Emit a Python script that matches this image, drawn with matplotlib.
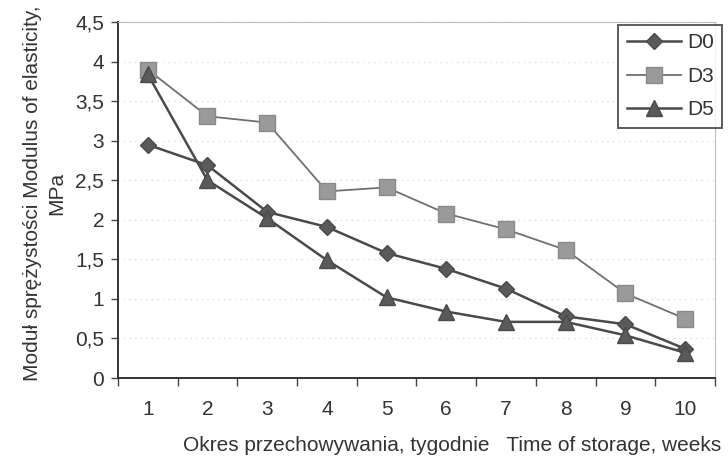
import numpy as np
import matplotlib.pyplot as plt

plt.rcParams['font.family'] = ['Liberation Sans', 'DejaVu Sans']

weeks = [1, 2, 3, 4, 5, 6, 7, 8, 9, 10]
d0 = [2.95, 2.69, 2.10, 1.91, 1.58, 1.38, 1.13, 0.78, 0.68, 0.37]
d3 = [3.90, 3.31, 3.23, 2.36, 2.41, 2.08, 1.88, 1.62, 1.07, 0.75]
d5 = [3.84, 2.50, 2.02, 1.49, 1.02, 0.84, 0.71, 0.71, 0.54, 0.32]

fig = plt.figure(figsize=(7.28, 4.61), dpi=100)
ax = fig.add_axes([0.162, 0.180, 0.820, 0.772])

ax.plot(weeks, d0, color='#4a4a4a', lw=1.8, marker='D', ms=8, mfc='#5a5a5a', mec='#4a4a4a', label='D0')
ax.plot(weeks, d3, color='#707070', lw=1.3, marker='s', ms=11, mfc='#9a9a9a', mec='#8a8a8a', label='D3')
ax.plot(weeks, d5, color='#4a4a4a', lw=1.8, marker='^', ms=11, mfc='#5a5a5a', mec='#4a4a4a', label='D5')

ax.set_xlim(0.5, 10.5)
ax.set_ylim(0, 4.5)
ax.set_yticks(np.arange(0, 4.51, 0.5))
ax.set_yticklabels(['0', '0,5', '1', '1,5', '2', '2,5', '3', '3,5', '4', '4,5'])
ax.set_xticks(weeks)
ax.set_xticks(np.arange(0.5, 10.6, 1), minor=True)
ax.tick_params(axis='x', which='major', length=0, pad=16, labelsize=15)
ax.tick_params(axis='x', which='minor', length=6, width=1, color='#444444', direction='out')
ax.tick_params(axis='y', length=5, width=1, color='#444444', labelsize=15, pad=5)
for lab in ax.get_xticklabels() + ax.get_yticklabels():
    lab.set_color('#333333')

ax.grid(axis='y', color='#cccccc', lw=0.8, ls=(0, (1, 4)))
for s in ['left', 'bottom']:
    ax.spines[s].set_color('#333333')
    ax.spines[s].set_linewidth(1.4)
for s in ['top', 'right']:
    ax.spines[s].set_color('#bbbbbb')
    ax.spines[s].set_linewidth(0.8)

ax.set_xlabel('Okres przechowywania, tygodnie   Time of storage, weeks', fontsize=15, color='#333333', labelpad=12, x=0.56)
ax.set_ylabel('Moduł sprężystości Modulus of elasticity,\nMPa', fontsize=15, color='#333333', labelpad=6, linespacing=1.35, y=0.52)

leg = fig.legend(loc='upper right', bbox_to_anchor=(0.992, 0.946), fontsize=15, frameon=True, fancybox=False,
                 edgecolor='#333333', borderpad=0.4, handlelength=2.6, handletextpad=0.3, labelspacing=0.7,
                 borderaxespad=0)
leg.get_frame().set_linewidth(1.4)
for t in leg.get_texts():
    t.set_color('#333333')

fig.savefig('out.png', dpi=100)
